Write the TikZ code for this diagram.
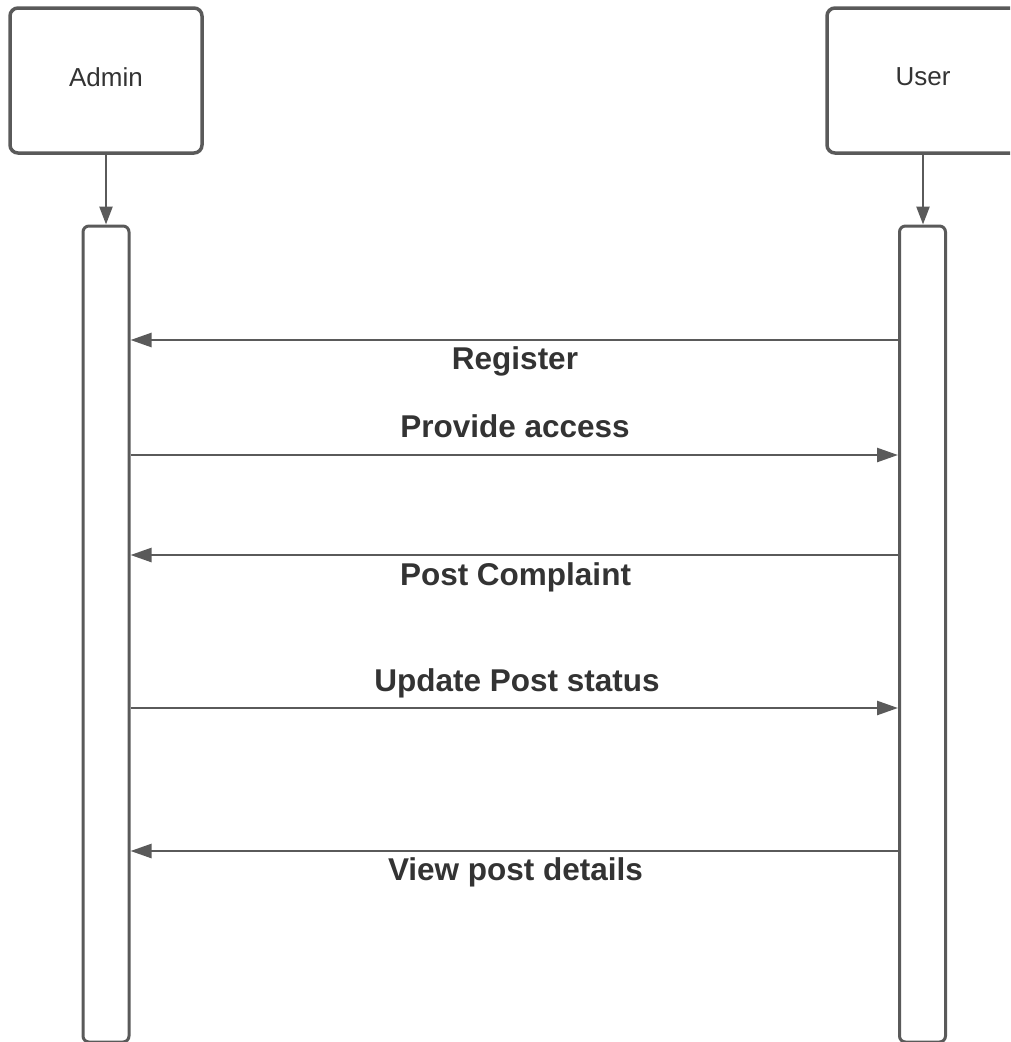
\documentclass[tikz,border=0pt]{standalone}
\usepackage{fontspec}
\setmainfont{Liberation Sans}
\usetikzlibrary{arrows.meta}
\definecolor{linegray}{HTML}{5A5A5A}
\definecolor{textgray}{HTML}{333333}
\begin{document}
\begin{tikzpicture}[x=1pt,y=-1pt,
  actor/.style={draw=linegray, line width=3.5pt, rounded corners=8pt, fill=white,
    minimum width=192pt, minimum height=145pt, inner sep=0pt, text depth=7pt,
    text=textgray, font=\fontsize{26}{30}\selectfont},
  lifeline/.style={draw=linegray, line width=3pt, rounded corners=6pt, fill=white,
    minimum width=46pt, minimum height=816pt, inner sep=0pt},
  create/.style={draw=linegray, line width=2.5pt,
    -{Triangle[length=18pt,width=13pt]}},
  msg/.style={draw=linegray, line width=2.5pt,
    -{Triangle[length=21pt,width=14pt]}},
  msglabel/.style={anchor=base, text=textgray, inner sep=0pt,
    font=\fontsize{31.5}{36}\selectfont\bfseries}]
  \useasboundingbox (0,0) rectangle (1010,1042);
  \clip (0,0) rectangle (1010,1042);

  % participants
  \node[actor] (admin) at (106,80.5) {Admin};
  \node[actor] (user)  at (923,80.5) {User};

  % lifelines
  \node[lifeline] (adminlife) at (106,634) {};
  \node[lifeline] (userlife)  at (922.5,634) {};

  \draw[create] (admin.south) -- (adminlife.north);
  \draw[create] (user.south) -- (userlife.north -| user.south);

  % messages
  \draw[msg] (userlife.west |- 0,340) -- (adminlife.east |- 0,340);
  \node[msglabel] (register) at (515,369) {Register};

  \draw[msg] (adminlife.east |- 0,455) -- (userlife.west |- 0,455);
  \node[msglabel] (access) at (515,437) {Provide access};

  \draw[msg] (userlife.west |- 0,555) -- (adminlife.east |- 0,555);
  \node[msglabel] (complaint) at (515.5,585.5) {Post Complaint};

  \draw[msg] (adminlife.east |- 0,708) -- (userlife.west |- 0,708);
  \node[msglabel] (status) at (517,691.5) {Update Post status};

  \draw[msg] (userlife.west |- 0,851) -- (adminlife.east |- 0,851);
  \node[msglabel] (details) at (515.5,880.5) {View post details};
\end{tikzpicture}
\end{document}
